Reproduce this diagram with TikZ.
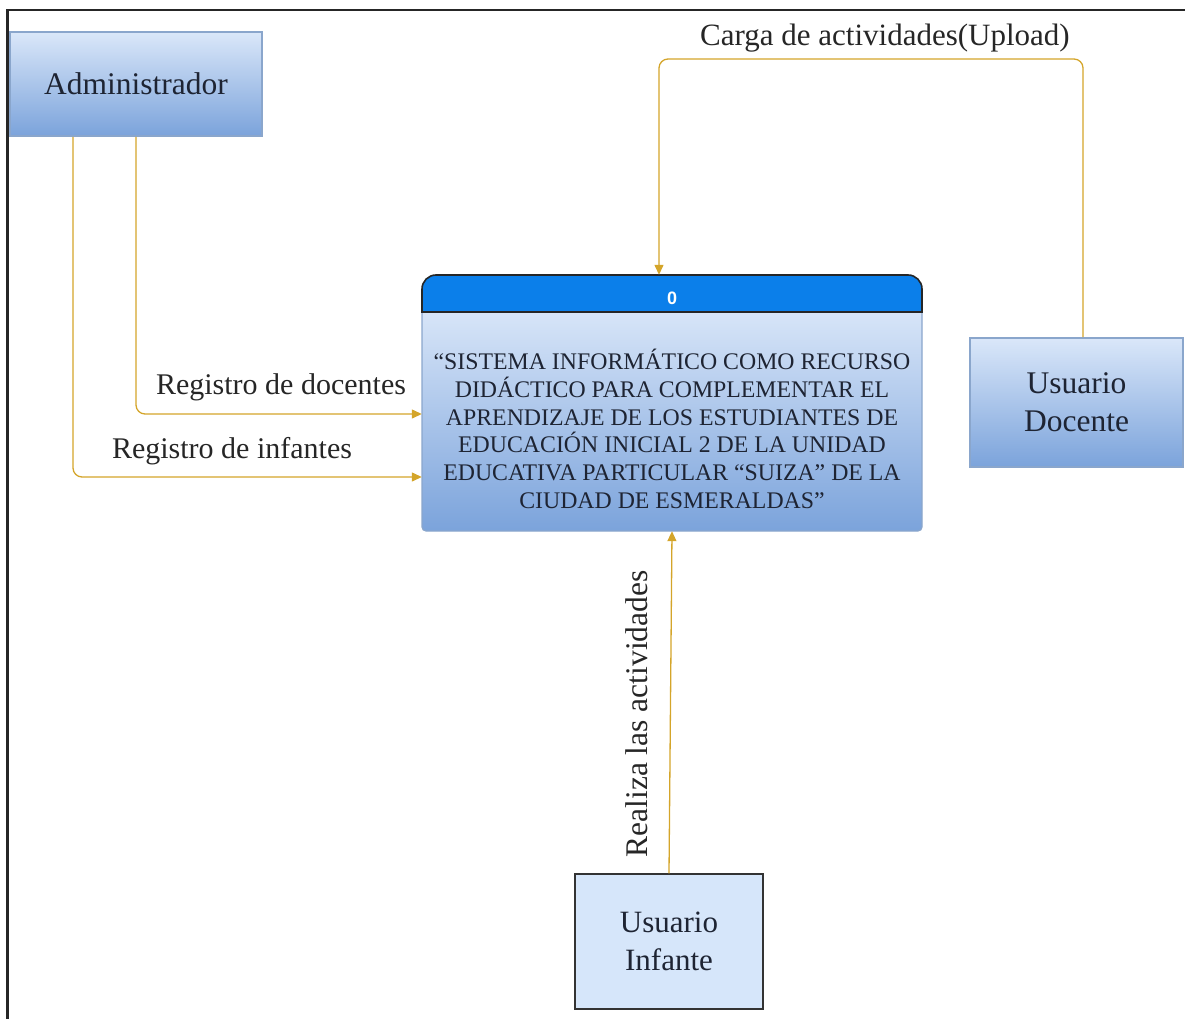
\documentclass[tikz,border=0pt]{standalone}
\usepackage{fontspec}
\setmainfont{Liberation Serif}
\newfontfamily\hdrfont{Liberation Sans}
\usetikzlibrary{arrows.meta,calc}
\definecolor{gold}{HTML}{D4A52A}
\definecolor{boxtop}{HTML}{DAE7F9}
\definecolor{boxbot}{HTML}{7BA3DB}
\definecolor{boxedge}{HTML}{8AA6CC}
\definecolor{hdr}{HTML}{0B7FEA}
\definecolor{inkc}{HTML}{1E2433}
\definecolor{flat}{HTML}{D6E6FA}
\tikzset{
  entity/.style={draw=boxedge, line width=1.6pt, top color=boxtop, bottom color=boxbot,
    align=center, text=inkc, inner sep=0pt, font=\fontsize{31.5}{38}\selectfont},
  flatentity/.style={draw=black!80, line width=1.4pt, fill=flat,
    align=center, text=inkc, inner sep=0pt, font=\fontsize{31}{38}\selectfont},
  flow/.style={draw=gold, line width=1.3pt, rounded corners=9pt,
    -{Triangle[length=10pt,width=9pt]}},
  lbl/.style={text=black!85, font=\fontsize{30}{34}\selectfont, inner sep=0pt}
}
\begin{document}
\begin{tikzpicture}[x=1pt,y=-1pt]
\useasboundingbox (0,0) rectangle (1185,1019);
% frame (only top and left visible)
\draw[black!85, line width=2.6pt] (7.5,1019) -- (7.5,10) -- (1185,10);

% entities
\node[entity, minimum width=252, minimum height=104] (adm) at (136,84) {Administrador};
\node[entity, minimum width=213, minimum height=129] (doc) at (1076.5,402.5) {Usuario\\Docente};
\node[flatentity, minimum width=188, minimum height=135] (inf) at (669,941.5) {Usuario\\Infante};

% central process
\node[minimum width=500, minimum height=256, inner sep=0pt] (sys) at (672,403) {};
\shade[top color=boxtop, bottom color=boxbot, draw=boxedge, line width=1.2pt, rounded corners=4pt]
  (422,305) -- (422,531) -- (922,531) -- (922,305) -- cycle;
\fill[hdr, draw=black!85, line width=1.6pt]
  (422,312) [rounded corners=14pt] -- (422,275) -- (922,275) [sharp corners] -- (922,312) -- cycle;
\node[text=white, font=\hdrfont\bfseries\fontsize{18}{20}\selectfont] (num) at (672,298) {0};
\node[align=center, text=inkc, font=\fontsize{23.8}{27.7}\selectfont] (systxt) at (672,429)
  {“SISTEMA INFORMÁTICO COMO RECURSO\\
   DIDÁCTICO PARA COMPLEMENTAR EL\\
   APRENDIZAJE DE LOS ESTUDIANTES DE\\
   EDUCACIÓN INICIAL 2 DE LA UNIDAD\\
   EDUCATIVA PARTICULAR “SUIZA” DE LA\\
   CIUDAD DE ESMERALDAS”};

% flows
\draw[flow] ([xshift=-63pt]adm.south) |- ([yshift=-74pt]sys.west);
\draw[flow] (adm.south) |- ([yshift=-11pt]sys.west);
\coordinate (ctop) at (870,59);
\draw[flow] ([xshift=6.5pt]doc.north) |- (ctop) -| ([xshift=-13pt]sys.north);
\draw[flow, rounded corners=0pt] (inf.north) -- (sys.south);

% labels
\node[lbl, font=\fontsize{31}{34}\selectfont] (l1) at (885,38) {Carga de actividades(Upload)};
\node[lbl] (l2) at (281,387) {Registro de docentes};
\node[lbl] (l3) at (232,451) {Registro de infantes};
\node[lbl, rotate=90, font=\fontsize{31.5}{34}\selectfont] (l4) at (637,714) {Realiza las actividades};
\end{tikzpicture}
\end{document}
